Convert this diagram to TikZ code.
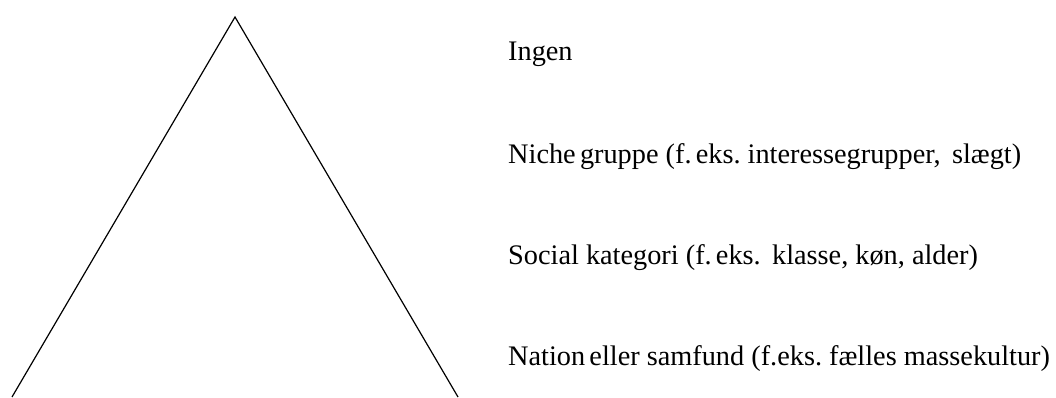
\documentclass[tikz,border=0pt]{standalone}
\usepackage{fontspec}
\setmainfont{Liberation Serif}
\begin{document}
\frenchspacing
\begin{tikzpicture}[x=1pt, y=-1pt,
  level/.style={anchor=base west, inner sep=0pt, font=\fontsize{28.3}{33}\selectfont}]
  \useasboundingbox (0,0) rectangle (1056,397);
  % open triangle
  \coordinate (apex) at (235,17);
  \coordinate (baseL) at (12,397);
  \coordinate (baseR) at (458,397);
  \draw[line width=1.2pt, line join=miter] (baseL) -- (apex) -- (baseR);
  % levels
  \node[level] (none)   at (508,60)  {Ingen};
  \node[level] (niche)  at (508,163) {Niche\hspace{0.15em}gruppe (f.\hspace{0.15em}eks. interessegrupper,\hspace{0.4em}slægt)};
  \node[level] (social) at (508,264) {Social kategori (f.\hspace{0.15em}eks.\hspace{0.4em}klasse, køn, alder)};
  \node[level] (nation) at (508,365) {Nation\hspace{0.15em}eller samfund (f.eks. fælles massekultur)};
\end{tikzpicture}
\end{document}
